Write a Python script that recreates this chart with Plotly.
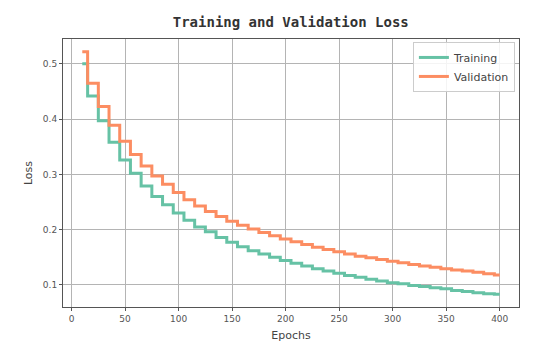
import plotly.graph_objects as go

epochs = list(range(10, 401, 10))
train_loss = [0.500, 0.442, 0.397, 0.358, 0.326, 0.302, 0.279, 0.260, 0.245, 0.230,
              0.217, 0.205, 0.196, 0.186, 0.177, 0.169, 0.162, 0.156, 0.150, 0.144,
              0.139, 0.134, 0.129, 0.125, 0.121, 0.117, 0.114, 0.110, 0.107, 0.104,
              0.102, 0.099, 0.097, 0.095, 0.093, 0.090, 0.088, 0.086, 0.084, 0.083]
val_loss = [0.522, 0.465, 0.423, 0.389, 0.360, 0.336, 0.315, 0.297, 0.282, 0.267,
            0.254, 0.243, 0.233, 0.224, 0.215, 0.208, 0.201, 0.195, 0.189, 0.183,
            0.178, 0.173, 0.168, 0.164, 0.160, 0.156, 0.152, 0.149, 0.146, 0.143,
            0.140, 0.137, 0.134, 0.132, 0.129, 0.127, 0.125, 0.123, 0.120, 0.118]
x_ticks = [0, 50, 100, 150, 200, 250, 300, 350, 400]
y_ticks = [0.1, 0.2, 0.3, 0.4, 0.5]

fig = go.Figure()
fig.add_trace(go.Scatter(x=epochs, y=train_loss, mode="lines", name="Training",
                         line=dict(color="#66c2a5", width=3, shape="hvh")))
fig.add_trace(go.Scatter(x=epochs, y=val_loss, mode="lines", name="Validation",
                         line=dict(color="#fc8d62", width=3, shape="hvh")))

axis_common = dict(showline=True, linecolor="#555555", linewidth=1, mirror=True,
                   showgrid=True, gridcolor="#b4b4b4", gridwidth=1, zeroline=False,
                   ticks="outside", ticklen=3, tickcolor="#555555",
                   tickfont=dict(family="DejaVu Sans", size=9, color="#555555"))

fig.update_layout(
    width=548, height=346,
    margin=dict(l=55, r=37, t=31, b=47),
    paper_bgcolor="white", plot_bgcolor="white",
    title=dict(text="<b>Training and Validation Loss</b>", x=0.516, xanchor="center",
               y=0.96, yanchor="middle",
               font=dict(family="DejaVu Sans Mono", size=14, color="#333333")),
    xaxis=dict(range=[-8, 418], tickvals=x_ticks,
               title=dict(text="Epochs", standoff=8,
                          font=dict(family="DejaVu Sans", size=11, color="#444444")),
               **axis_common),
    yaxis=dict(range=[0.06, 0.545], tickvals=y_ticks, ticktext=[str(v) for v in y_ticks],
               title=dict(text="Loss", standoff=8,
                          font=dict(family="DejaVu Sans", size=11, color="#444444")),
               **axis_common),
    legend=dict(x=0.991, y=0.989, xanchor="right", yanchor="top",
                bgcolor="rgba(255,255,255,0.85)", bordercolor="#cccccc", borderwidth=1,
                font=dict(family="DejaVu Sans", size=11, color="#444444"),
                tracegroupgap=0, itemwidth=30),
    showlegend=True,
)

fig.write_html("out.html")
